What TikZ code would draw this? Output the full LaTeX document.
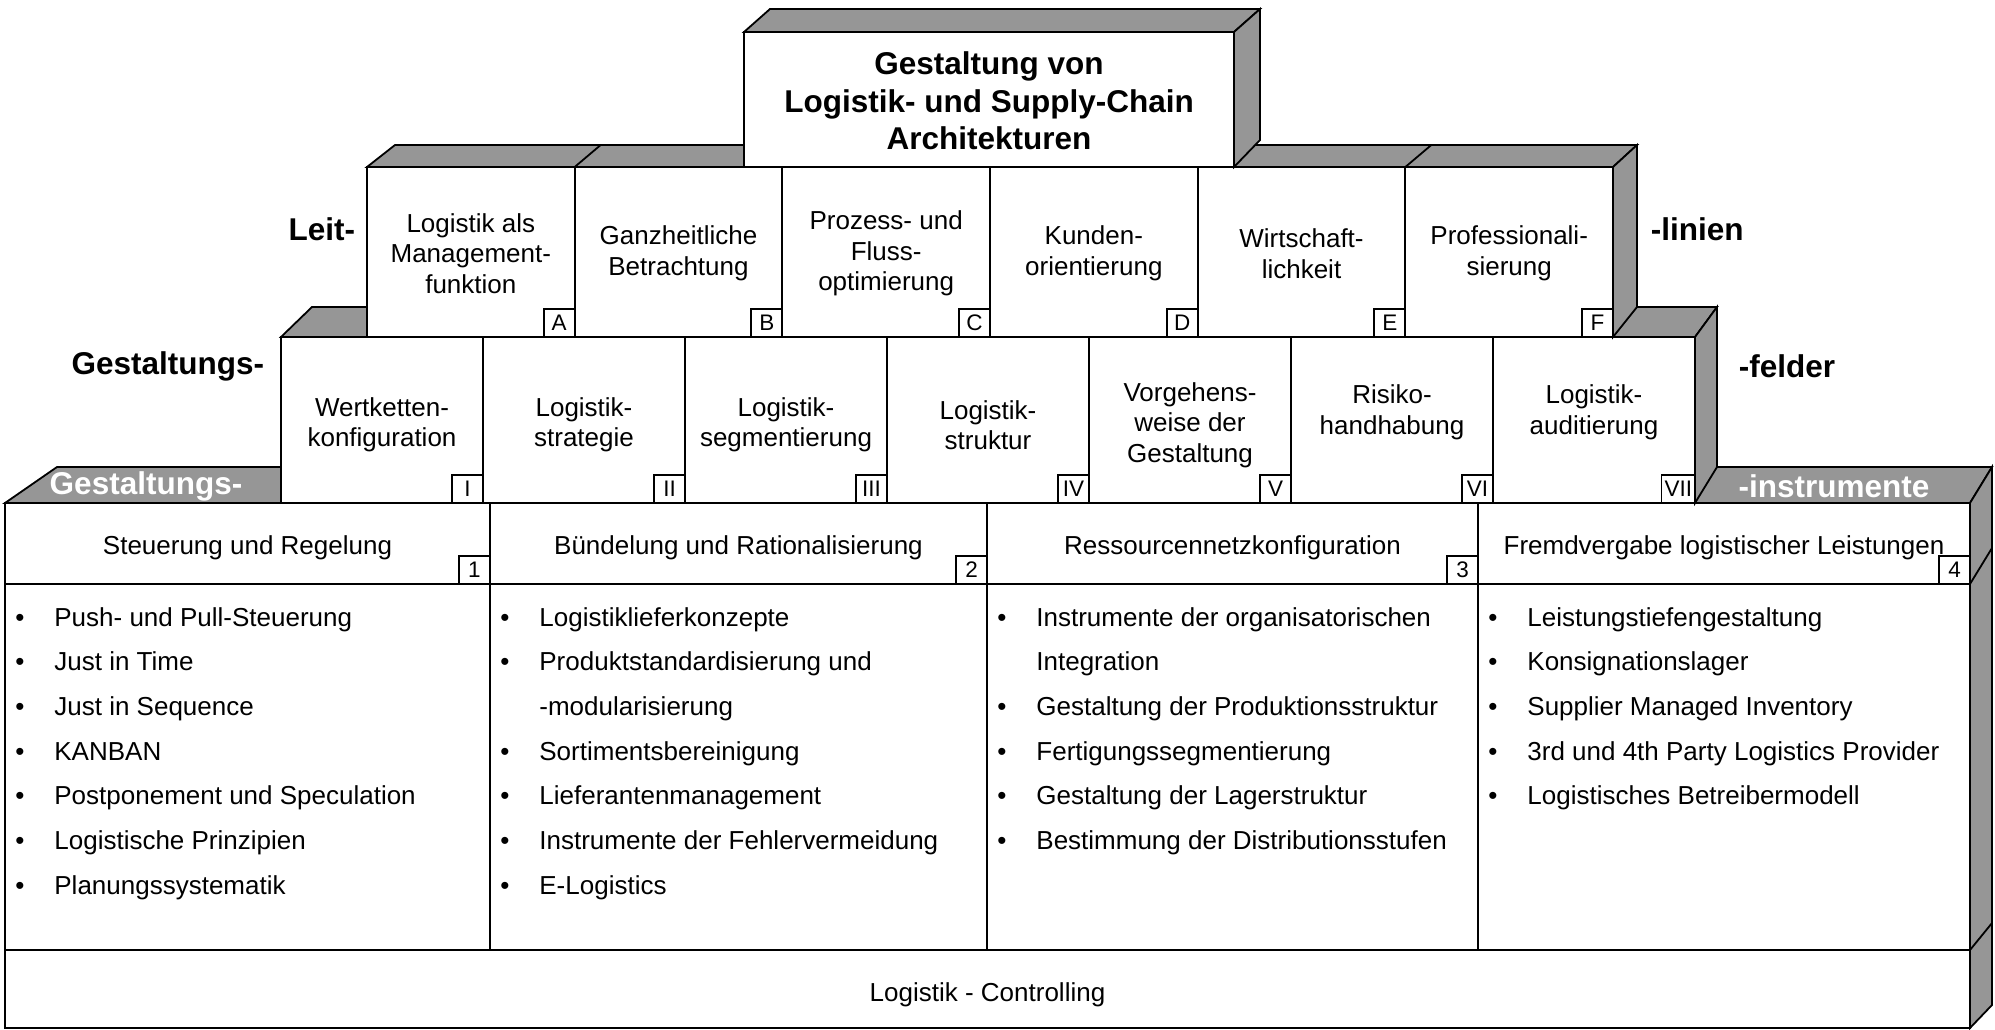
\documentclass[tikz,border=0pt]{standalone}
\usepackage{fontspec}
\setmainfont{Liberation Sans}
\definecolor{facegray}{RGB}{150,150,150}
\newcommand\myreg{\fontsize{26}{30.5}\selectfont}
\newcommand\mybold{\fontsize{31.5}{37.5}\selectfont\bfseries}
\newcommand\mytag{\fontsize{22.5}{22.5}\selectfont}
\begin{document}
\begin{tikzpicture}[x=1pt,y=-1pt,line width=1.8pt,
  face/.style={draw=black,fill=facegray},
  box/.style={draw=black,fill=white,inner sep=0pt,outer sep=0pt,align=center,font=\myreg,anchor=north west},
  txt/.style={inner sep=0pt,align=center,font=\myreg},
  tag/.style={draw=black,fill=white,outer sep=0pt,inner xsep=3pt,inner ysep=0pt,minimum width=31pt,minimum height=28pt,font=\mytag,anchor=south east},
  lbl/.style={inner sep=0pt,font=\mybold},
  wlbl/.style={inner sep=0pt,font=\mybold,text=white},
  btext/.style={inner sep=0pt,font=\myreg,anchor=base west},
  bul/.style={inner sep=0pt,font=\myreg,anchor=base}]
\useasboundingbox (0,0) rectangle (1995,1030);

% ---------- row 3 : instruments block ----------
\draw[face] (5,503) -- (57,467) -- (1992,467) -- (1970,503) -- cycle;
\draw[face] (1970,503) -- (1992,467) -- (1992,1005) -- (1970,1028) -- cycle;
\draw (1970,584) -- (1992,548);
\draw (1970,950) -- (1992,923);

\node[box,minimum width=485pt,minimum height=81pt] (H1) at (5,503) {};
\node[box,minimum width=497pt,minimum height=81pt] (H2) at (490,503) {};
\node[box,minimum width=491pt,minimum height=81pt] (H3) at (987,503) {};
\node[box,minimum width=492pt,minimum height=81pt] (H4) at (1478,503) {};
\node[tag] (n1) at (H1.south east) {1};
\node[tag] (n2) at (H2.south east) {2};
\node[tag] (n3) at (H3.south east) {3};
\node[tag] (n4) at (H4.south east) {4};
\node[txt] (H1t) at ([yshift=-4pt]H1.center) {Steuerung und Regelung};
\node[txt] (H2t) at ([yshift=-4pt]H2.center) {Bündelung und Rationalisierung};
\node[txt] (H3t) at ([yshift=-4pt]H3.center) {Ressourcennetzkonfiguration};
\node[txt] (H4t) at ([yshift=-4pt]H4.center) {Fremdvergabe logistischer Leistungen};

\node[box,minimum width=485pt,minimum height=366pt] (C1) at (5,584) {};
\node[box,minimum width=497pt,minimum height=366pt] (C2) at (490,584) {};
\node[box,minimum width=491pt,minimum height=366pt] (C3) at (987,584) {};
\node[box,minimum width=492pt,minimum height=366pt] (C4) at (1478,584) {};
\node[box,minimum width=1965pt,minimum height=78pt] (ctrl) at (5,950) {};
\node[txt] (ctrlt) at ([yshift=-6pt]ctrl.center) {Logistik - Controlling};

\newcommand\myitem[4]{%
  \node[bul] (#1b) at ({#2+15},{626+#3*44.7}) {•};
  \node[btext] (#1) at ({#2+48.5},{626+#3*44.7}) {#4};}
\newcommand\mycont[4]{%
  \node[btext] (#1) at ({#2+48.5},{626+#3*44.7}) {#4};}

\myitem{a1}{5}{0}{Push- und Pull-Steuerung}
\myitem{a2}{5}{1}{Just in Time}
\myitem{a3}{5}{2}{Just in Sequence}
\myitem{a4}{5}{3}{KANBAN}
\myitem{a5}{5}{4}{Postponement und Speculation}
\myitem{a6}{5}{5}{Logistische Prinzipien}
\myitem{a7}{5}{6}{Planungssystematik}

\myitem{b1}{490}{0}{Logistiklieferkonzepte}
\myitem{b2}{490}{1}{Produktstandardisierung und}
\mycont{b3}{490}{2}{-modularisierung}
\myitem{b4}{490}{3}{Sortimentsbereinigung}
\myitem{b5}{490}{4}{Lieferantenmanagement}
\myitem{b6}{490}{5}{Instrumente der Fehlervermeidung}
\myitem{b7}{490}{6}{E-Logistics}

\myitem{c1}{987}{0}{Instrumente der organisatorischen}
\mycont{c2}{987}{1}{Integration}
\myitem{c3}{987}{2}{Gestaltung der Produktionsstruktur}
\myitem{c4}{987}{3}{Fertigungssegmentierung}
\myitem{c5}{987}{4}{Gestaltung der Lagerstruktur}
\myitem{c6}{987}{5}{Bestimmung der Distributionsstufen}

\myitem{d1}{1478}{0}{Leistungstiefengestaltung}
\myitem{d2}{1478}{1}{Konsignationslager}
\myitem{d3}{1478}{2}{Supplier Managed Inventory}
\myitem{d4}{1478}{3}{3rd und 4th Party Logistics Provider}
\myitem{d5}{1478}{4}{Logistisches Betreibermodell}

% ---------- row 2 : Gestaltungsfelder ----------
\draw[face] (281,337) -- (312,307) -- (1717,307) -- (1695,337) -- cycle;
\draw[face] (1695,337) -- (1717,307) -- (1717,467) -- (1695,503) -- cycle;
\foreach \r/\txt [count=\i from 0] in {I/{Wertketten-\\konfiguration},II/{Logistik-\\strategie},III/{Logistik-\\segmentierung},IV/{Logistik-\\struktur},V/{Vorgehens-\\weise der\\Gestaltung},VI/{Risiko-\\handhabung\\\mbox{}},VII/{Logistik-\\auditierung\\\mbox{}}}{
  \node[box,minimum width=202pt,minimum height=166pt] (G\r) at ({281+\i*202},337) {};
  \node[txt] (G\r t) at ([yshift=-5pt]G\r.center) {\txt};
  \node[tag] (tG\r) at (G\r.south east) {\r};
}

% ---------- row 1 : Leitlinien ----------
\draw[face] (367,167) -- (395,145) -- (1637,145) -- (1613,167) -- cycle;
\foreach \x in {574.667,782.333,990,1197.667,1405.333}{
  \draw ({\x},167) -- ({\x+26},145);
}
\draw[face] (1613,167) -- (1637,145) -- (1637,307) -- (1613,337) -- cycle;
\foreach \n/\txt [count=\i from 0] in {A/{Logistik als\\Management-\\funktion},B/{Ganzheitliche\\Betrachtung},C/{Prozess- und\\Fluss-\\optimierung},D/{Kunden-\\orientierung},E/{Wirtschaft-\\lichkeit},F/{Professionali-\\sierung}}{
  \node[box,minimum width=207.667pt,minimum height=170pt] (L\n) at ({367+\i*207.667},167) {};
  \node[txt] (L\n t) at ([yshift=-1.5pt]L\n.center) {\txt};
  \node[tag] (t\n) at (L\n.south east) {\n};
}

% ---------- top box ----------
\draw[face] (744,32) -- (770,9) -- (1260,9) -- (1234,32) -- cycle;
\draw[face] (1234,32) -- (1260,9) -- (1260,140) -- (1234,167) -- cycle;
\node[box,minimum width=490pt,minimum height=135pt] (top) at (744,32) {};
\node[txt,font=\mybold] (topt) at ([yshift=-1.5pt]top.center) {Gestaltung von\\Logistik- und Supply-Chain\\Architekturen};

% ---------- side labels ----------
\node[lbl,anchor=east] (leit) at (356,229) {Leit-};
\node[lbl,anchor=west] (linien) at (1650,229) {-linien};
\node[lbl,anchor=east] (gf) at (265,366) {Gestaltungs-};
\node[lbl,anchor=west] (felder) at (1738,366) {-felder};
\node[wlbl] (gi) at (146,486) {Gestaltungs-};
\node[wlbl] (instr) at (1834,486) {-instrumente};
\end{tikzpicture}
\end{document}
